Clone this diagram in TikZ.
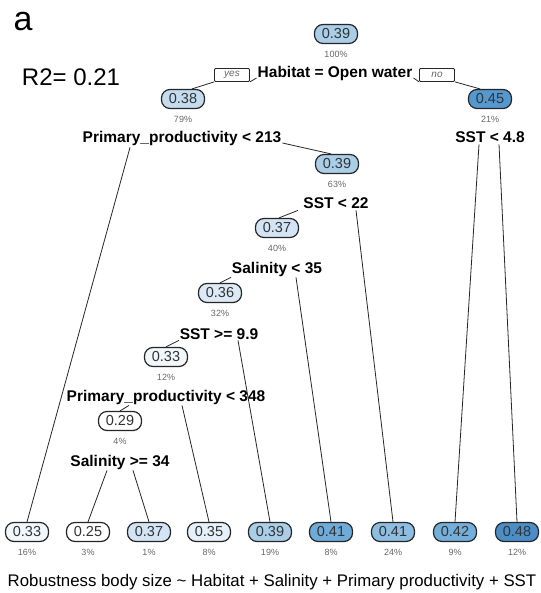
\documentclass[tikz,border=0pt]{standalone}
\usepackage{fontspec}
\setmainfont{Liberation Sans}
\usetikzlibrary{positioning}

\definecolor{v25}{HTML}{FFFFFF}
\definecolor{v29}{HTML}{FFFFFF}
\definecolor{v33}{HTML}{F2F7FC}
\definecolor{v35}{HTML}{E6F0F9}
\definecolor{v36}{HTML}{DCEAF6}
\definecolor{v37}{HTML}{D3E5F4}
\definecolor{v38}{HTML}{C4DCF0}
\definecolor{v39}{HTML}{AACDE8}
\definecolor{v41a}{HTML}{6FABD8}
\definecolor{v41b}{HTML}{8DBDE2}
\definecolor{v42}{HTML}{74AEDA}
\definecolor{v45}{HTML}{5598CF}
\definecolor{v48}{HTML}{4A8DC7}

\begin{document}
\begin{tikzpicture}[
  x=1pt, y=-1pt,
  every node/.style={font=\fontsize{14.5}{16}\selectfont},
  tnode/.style={draw=black!85, line width=1.2pt, rounded corners=8.5pt,
              inner xsep=6pt, inner ysep=0pt, minimum width=43pt,
              minimum height=19pt, text=black!80},
  pct/.style={font=\fontsize{9}{10}\selectfont, text=black!60, inner sep=1pt},
  split/.style={font=\bfseries\fontsize{15.5}{17}\selectfont, inner sep=1pt, anchor=base},
  yn/.style={draw=black!85, line width=0.8pt, rounded corners=1pt,
              font=\itshape\fontsize{10}{12}\selectfont, text=black!60,
              minimum width=35pt, minimum height=13pt, inner sep=1pt},
  branch/.style={draw=black!85, line width=0.8pt},
]
\useasboundingbox (0,0) rectangle (540,593);

% panel label and fit
\node[font=\fontsize{34}{36}\selectfont] (panel) at (23,22) {a};
\node[font=\fontsize{24}{26}\selectfont] (rsq) at (71,77) {R2= 0.21};

% root split
\node[tnode, fill=v39] (t39) at (336,34) {0.39};
\node[pct, below=5.5pt of t39] (p39) {100\%};
\node[split] (hab) at (335,78) {Habitat = Open water};
\node[yn] (yes) at (232,75) {yes};
\node[yn] (no) at (437,75) {no};

\node[tnode, fill=v38] (t38) at (183,99) {0.38};
\node[pct, below=5.5pt of t38] (p38) {79\%};
\node[tnode, fill=v45] (t45) at (490,99) {0.45};
\node[pct, below=5.5pt of t45] (p45) {21\%};

\draw[branch] (yes.south east) -- (hab.base west);
\draw[branch] (hab.base east) -- (no.south west);
\draw[branch] (yes.south west) -- ([xshift=9pt]t38.north);
\draw[branch] (no.south east) -- ([xshift=-10pt]t45.north);

% second level
\node[split] (s213) at (182,143) {Primary\_productivity < 213};
\node[split] (s48) at (490,143) {SST < 4.8};

\node[tnode, fill=v39] (t39b) at (337,164) {0.39};
\node[pct, below=5.5pt of t39b] (p39b) {63\%};
\node[split] (s22) at (336,209) {SST < 22};

\node[tnode, fill=v37] (t37) at (277,228) {0.37};
\node[pct, below=5.5pt of t37] (p37) {40\%};
\node[split] (s35) at (277,273) {Salinity < 35};

\node[tnode, fill=v36] (t36) at (220,293) {0.36};
\node[pct, below=5.5pt of t36] (p36) {32\%};
\node[split] (s99) at (219,339) {SST >= 9.9};

\node[tnode, fill=v33] (t33) at (166,357) {0.33};
\node[pct, below=5.5pt of t33] (p33) {12\%};
\node[split] (s348) at (166,401) {Primary\_productivity < 348};

\node[tnode, fill=v29] (t29) at (120,421) {0.29};
\node[pct, below=5.5pt of t29] (p29) {4\%};
\node[split] (s34) at (120,466) {Salinity >= 34};

% leaves
\node[tnode, fill=v33] (l33) at (27,532) {0.33};
\node[tnode, fill=v25] (l25) at (88,532) {0.25};
\node[tnode, fill=v37] (l37) at (149,532) {0.37};
\node[tnode, fill=v35] (l35) at (209,532) {0.35};
\node[tnode, fill=v39] (l39) at (270,532) {0.39};
\node[tnode, fill=v41a] (l41a) at (331,532) {0.41};
\node[tnode, fill=v41b] (l41b) at (393,532) {0.41};
\node[tnode, fill=v42] (l42) at (455,532) {0.42};
\node[tnode, fill=v48] (l48) at (517,532) {0.48};

\node[pct, below=5.5pt of l33] (q33) {16\%};
\node[pct, below=5.5pt of l25] (q25) {3\%};
\node[pct, below=5.5pt of l37] (q37) {1\%};
\node[pct, below=5.5pt of l35] (q35) {8\%};
\node[pct, below=5.5pt of l39] (q39) {19\%};
\node[pct, below=5.5pt of l41a] (q41a) {8\%};
\node[pct, below=5.5pt of l41b] (q41b) {24\%};
\node[pct, below=5.5pt of l42] (q42) {9\%};
\node[pct, below=5.5pt of l48] (q48) {12\%};

% branches
\draw[branch] ([xshift=-52pt]s213.south) -- (l33.north);
\draw[branch] (s213.base east) -- ([xshift=-6pt]t39b.north);
\draw[branch] ([xshift=-11pt]s48.south) -- (l42.north);
\draw[branch] ([xshift=9pt]s48.south) -- (l48.north);
\draw[branch] ([xshift=-38pt]s22.south) -- ([xshift=2pt]t37.north);
\draw[branch] ([xshift=20pt]s22.south) -- (l41b.north);
\draw[branch] ([xshift=-46pt]s35.south) -- (t36.north);
\draw[branch] ([xshift=19pt]s35.south) -- (l41a.north);
\draw[branch] ([xshift=-40pt]s99.south) -- (t33.north);
\draw[branch] ([xshift=19pt]s99.south) -- (l39.north);
\draw[branch] ([xshift=-37pt]s348.south) -- (t29.north);
\draw[branch] ([xshift=16pt]s348.south) -- (l35.north);
\draw[branch] ([xshift=-13pt]s34.south) -- (l25.north);
\draw[branch] ([xshift=13pt]s34.south) -- (l37.north);

% model formula
\node[font=\fontsize{16.8}{18}\selectfont] (formula) at (272,582)
  {Robustness body size \textasciitilde\ Habitat + Salinity + Primary productivity + SST};

\end{tikzpicture}
\end{document}
